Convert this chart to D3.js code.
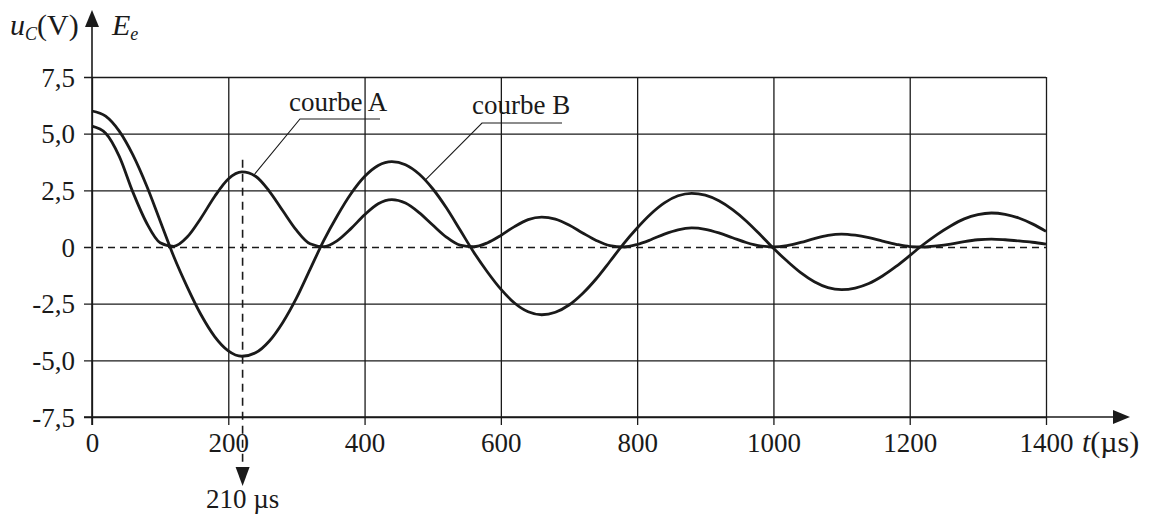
<!DOCTYPE html>
<html>
<head>
<meta charset="utf-8">
<script src="https://cdn.jsdelivr.net/npm/d3@7"></script>
<style>
  body { margin: 0; background: #fff; }
  text { font-family: "Liberation Serif", "Times New Roman", serif; fill: #1a1a1a; }
</style>
</head>
<body>
<div id="chart"></div>
<script>
// time samples (µs)
var times = d3.range(0, 1401, 20);

// courbe B : u_C (V)
var courbeB = [6.0, 5.77, 5.11, 4.06, 2.71, 1.15, -0.42, -1.78, -2.99, -3.95,
  -4.58, -4.82, -4.67, -4.16, -3.33, -2.26, -0.99, 0.28, 1.38, 2.35,
  3.11, 3.60, 3.77, 3.63, 3.22, 2.57, 1.73, 0.76, -0.22, -1.09,
  -1.86, -2.47, -2.86, -2.99, -2.88, -2.56, -2.05, -1.40, -0.64, 0.14,
  0.84, 1.46, 1.95, 2.26, 2.37, 2.29, 2.04, 1.65, 1.15, 0.56,
  -0.06, -0.62, -1.13, -1.53, -1.79, -1.88, -1.81, -1.61, -1.28, -0.86,
  -0.38, 0.11, 0.55, 0.93, 1.24, 1.43, 1.50, 1.44, 1.28, 1.02, 0.69];

// courbe A : E_e
var courbeA = [5.33, 5.02, 4.0, 2.42, 1.07, 0.19, 0.03, 0.45, 1.28, 2.23,
  3.0, 3.31, 3.12, 2.47, 1.6, 0.74, 0.14, 0.01, 0.28, 0.81,
  1.42, 1.91, 2.09, 1.94, 1.52, 0.97, 0.44, 0.085, 0.01, 0.18,
  0.51, 0.9, 1.21, 1.32, 1.23, 0.97, 0.62, 0.29, 0.06, 0.0,
  0.11, 0.32, 0.57, 0.76, 0.84, 0.78, 0.62, 0.41, 0.2, 0.05,
  0.0, 0.06, 0.2, 0.37, 0.51, 0.57, 0.52, 0.41, 0.26, 0.12,
  0.02, 0.0, 0.05, 0.13, 0.24, 0.32, 0.35, 0.32, 0.27, 0.21, 0.13];

// tick labels
var xTicks = [0, 200, 400, 600, 800, 1000, 1200, 1400];
var yTicks = [-7.5, -5, -2.5, 0, 2.5, 5, 7.5];

// annotation: time marked by the dashed arrow
var markerT = 221;
var markerLabel = "210 µs";

var svgWidth = 1150;
var svgHeight = 516;

var svg = d3.select("#chart")
  .append("svg")
  .attr("width", svgWidth)
  .attr("height", svgHeight);

var plotLeft = 92, plotRight = 1046, plotTop = 77, plotBottom = 417;

var xScale = d3.scaleLinear().domain([0, 1400]).range([plotLeft, plotRight]);
var yScale = d3.scaleLinear().domain([-7.5, 7.5]).range([plotBottom, plotTop]);

var ink = "#1a1a1a";
var fontSize = "27px";

// horizontal grid + y labels
var yAxis = svg.append("g")
  .attr("transform", "translate(84,0)")
  .call(d3.axisLeft(yScale)
    .tickValues(yTicks)
    .tickSize(-(plotRight - 84))
    .tickPadding(9)
    .tickFormat(d => d === 0 ? "0" : d.toFixed(1).replace(".", ",")));

yAxis.select(".domain").remove();
yAxis.selectAll("line")
  .attr("stroke", ink)
  .attr("stroke-width", 1.3)
  .attr("stroke-dasharray", d => d === 0 ? "7,5" : null);
yAxis.selectAll("text")
  .attr("font-size", fontSize)
  .attr("dy", "0.34em")
  .attr("fill", ink)
  .style("font-family", "'Liberation Serif', serif");

// vertical grid + x labels
var xAxis = svg.append("g")
  .attr("transform", "translate(0,425)")
  .call(d3.axisBottom(xScale)
    .tickValues(xTicks)
    .tickSize(-(425 - plotTop))
    .tickFormat(d3.format("d")));

xAxis.select(".domain").remove();
xAxis.selectAll("line")
  .attr("stroke", ink)
  .attr("stroke-width", 1.3);
xAxis.selectAll("text")
  .attr("y", 27)
  .attr("dy", 0)
  .attr("font-size", fontSize)
  .attr("fill", ink)
  .style("font-family", "'Liberation Serif', serif");

// axes with arrows
svg.append("line")
  .attr("x1", plotLeft).attr("x2", plotLeft)
  .attr("y1", 425).attr("y2", 24)
  .attr("stroke", ink).attr("stroke-width", 1.6);
svg.append("path")
  .attr("d", `M${plotLeft},10 L${plotLeft - 7},27 L${plotLeft + 7},27 Z`)
  .attr("fill", ink);

svg.append("line")
  .attr("x1", 84).attr("x2", 1116)
  .attr("y1", plotBottom).attr("y2", plotBottom)
  .attr("stroke", ink).attr("stroke-width", 1.6);
svg.append("path")
  .attr("d", `M1130,${plotBottom} L1113,${plotBottom - 7} L1113,${plotBottom + 7} Z`)
  .attr("fill", ink);

// curves
var line = d3.line()
  .x((d, i) => xScale(times[i]))
  .y(d => yScale(d))
  .curve(d3.curveMonotoneX);

[courbeA, courbeB].forEach(function(series) {
  svg.append("path")
    .datum(series)
    .attr("d", line)
    .attr("fill", "none")
    .attr("stroke", ink)
    .attr("stroke-width", 2.8)
    .attr("stroke-linejoin", "round");
});

// dashed marker with arrow down
var mx = xScale(markerT);
svg.append("line")
  .attr("x1", mx).attr("x2", mx)
  .attr("y1", yScale(3.85)).attr("y2", 468)
  .attr("stroke", ink).attr("stroke-width", 1.6)
  .attr("stroke-dasharray", "8,6");
svg.append("path")
  .attr("d", `M${mx},486 L${mx - 7},467 L${mx + 7},467 Z`)
  .attr("fill", ink);
svg.append("text")
  .attr("x", mx)
  .attr("y", 508)
  .attr("text-anchor", "middle")
  .attr("font-size", fontSize)
  .text(markerLabel);

// curve labels with leader lines
function curveLabel(t, v, hx, hy, text, tx, ty) {
  svg.append("polyline")
    .attr("points", `${xScale(t)},${yScale(v)} ${hx},${hy} ${hx + 80},${hy}`)
    .attr("fill", "none")
    .attr("stroke", ink)
    .attr("stroke-width", 1.1);
  svg.append("text")
    .attr("x", tx)
    .attr("y", ty)
    .attr("font-size", fontSize)
    .text(text);
}
curveLabel(237, 3.15, 300, 119, "courbe A", 289, 111);
curveLabel(489, 2.95, 482, 123, "courbe B", 472, 114);

// axis titles
var yTitle = svg.append("text")
  .attr("x", 10)
  .attr("y", 35)
  .attr("font-size", "30px");
yTitle.append("tspan").attr("font-style", "italic").text("u");
yTitle.append("tspan").attr("font-style", "italic").attr("font-size", "18px").attr("dy", 5).text("C");
yTitle.append("tspan").attr("dy", -5).text("(V)");

var eTitle = svg.append("text")
  .attr("x", 112)
  .attr("y", 35)
  .attr("font-size", "30px");
eTitle.append("tspan").attr("font-style", "italic").text("E");
eTitle.append("tspan").attr("font-style", "italic").attr("font-size", "18px").attr("dy", 5).text("e");

var xTitle = svg.append("text")
  .attr("x", 1082)
  .attr("y", 452)
  .attr("font-size", "30px");
xTitle.append("tspan").attr("font-style", "italic").text("t");
xTitle.append("tspan").text("(µs)");
</script>
</body>
</html>
